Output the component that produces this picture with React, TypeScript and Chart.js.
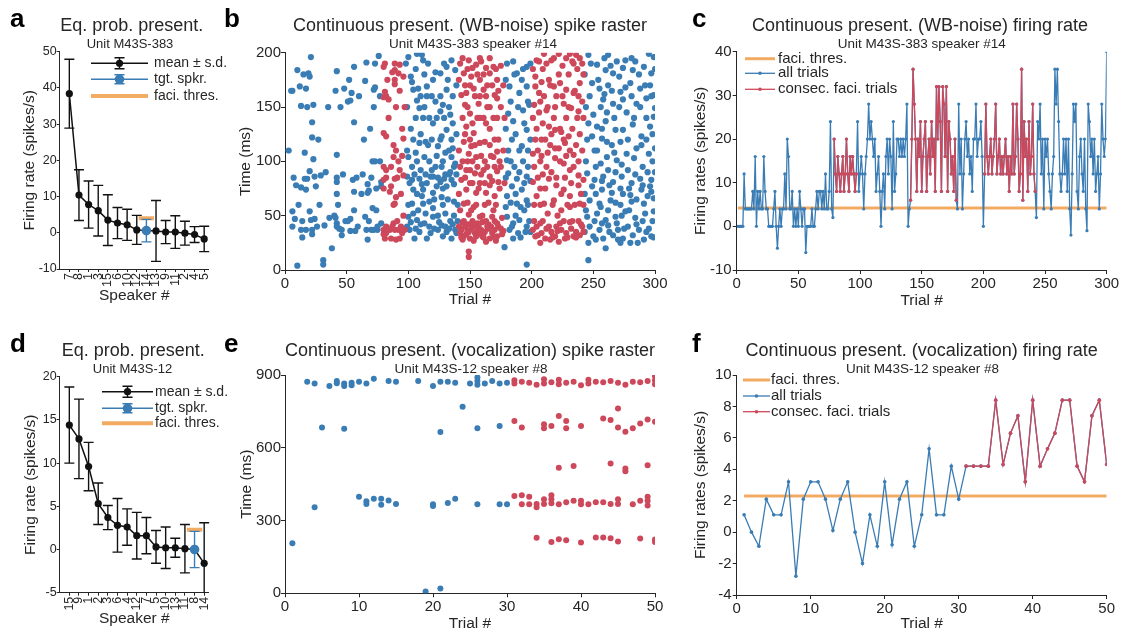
import React, { useEffect, useRef } from 'react';
import { Chart, registerables } from 'chart.js';

Chart.register(...registerables);

const W = 1122;
const H = 637;
const FONT = '"Liberation Sans", Arial, Helvetica, sans-serif';
const INK = '#262626';
const BLUE = '#3a7cb4';
const RED = '#cd485a';
const ORANGE = '#f2ab63';
const BLACK = '#111111';

Chart.defaults.font.family = FONT;
Chart.defaults.color = INK;

// ---------------- Panel a : Eq. prob. present. (Unit M43S-383) ----------------
const speakersA = ['7', '8', '1', '3', '15', '6', '10', '12', '14', '13', '9', '11', '2', '4', '5'];
const meanA = [38.4, 10.4, 7.8, 6.1, 3.5, 2.7, 2.2, 0.8, 0.6, 0.5, 0.2, 0.2, -0.1, -0.5, -1.7];
const sdA = [9.5, 7.0, 6.5, 7.0, 7.0, 4.3, 4.3, 4.0, 3.1, 8.4, 3.2, 4.5, 3.3, 2.2, 3.5];
const targetA = '14';
const thresA = 4.0;

// ---------------- Panel d : Eq. prob. present. (Unit M43S-12) ----------------
const speakersD = ['15', '9', '1', '2', '3', '6', '4', '12', '7', '5', '10', '13', '11', '8', '14'];
const meanD = [14.4, 12.8, 9.6, 5.3, 3.7, 2.8, 2.6, 1.6, 1.6, 0.3, 0.2, 0.2, 0.1, 0.0, -1.6];
const sdD = [4.4, 4.6, 2.8, 2.4, 1.4, 3.1, 2.1, 2.7, 2.1, 1.9, 2.4, 1.1, 2.8, 2.1, 4.7];
const targetD = '8';
const thresD = 2.3;

// ---------------- Panel b : WB-noise spike raster, [trial, ms] pairs ----------------
const rasterBBlue = [
  6, 165, 10, 184, 12, 169, 13, 151, 17, 167, 21, 196, 19, 181, 20, 178, 23, 152, 22, 136, 22, 122, 23, 102,
  20, 91, 16, 108, 9, 78, 13, 76, 17, 74, 16, 84, 18, 84, 24, 86, 25, 77, 29, 87, 6, 54, 8, 47, 6, 40, 14, 45,
  13, 37, 14, 30, 17, 37, 20, 54, 21, 46, 22, 37, 22, 33, 24, 47, 10, 4, 31, 9, 31, 5, 32, 41, 38, 20, 41, 165,
  42, 183, 42, 106, 42, 85, 42, 81, 42, 70, 43, 60, 40, 50, 41, 48, 42, 43, 42, 40, 46, 32, 46, 37, 48, 167,
  51, 155, 53, 156, 54, 163, 56, 187, 56, 136, 51, 45, 53, 47, 56, 55, 56, 72, 55, 83, 53, 36, 57, 36, 63, 88,
  65, 174, 66, 191, 67, 71, 68, 73, 67, 79, 65, 49, 66, 37, 67, 28, 72, 150, 73, 168, 72, 166, 71, 100, 73, 100,
  71, 57, 70, 37, 72, 37, 75, 37, 76, 197, 77, 160, 78, 81, 78, 77, 74, 75, 75, 40,
  3, 110, 5, 165, 7, 85, 11, 60, 15, 180, 18, 150, 26, 40, 27, 120, 28, 60, 33, 90, 35, 150, 36, 48, 44, 38,
  45, 150, 47, 88, 49, 45, 52, 175, 58, 85, 59, 40, 60, 160, 62, 70, 64, 120, 68, 45, 69, 130, 70, 85, 73, 190,
  74, 55, 77, 100, 78, 43,
  100, 196, 107, 199, 112, 193, 111, 198, 103, 173, 104, 166, 108, 167, 115, 169, 120, 175, 126, 181, 131, 187,
  135, 193, 138, 184, 107, 156, 115, 160, 122, 155, 128, 152, 109, 149, 131, 166, 112, 140, 120, 135, 126, 146,
  134, 143, 104, 120, 109, 117, 116, 115, 124, 114, 127, 123, 131, 129, 135, 120, 100, 104, 107, 100, 113, 104,
  122, 95, 128, 100, 135, 104, 138, 98, 99, 86, 103, 83, 109, 84, 115, 80, 120, 86, 126, 81, 131, 77, 135, 83,
  104, 74, 112, 74, 120, 71, 128, 75, 103, 61, 112, 61, 120, 57, 128, 60, 137, 63, 100, 49, 107, 46, 113, 43,
  120, 49, 127, 41, 134, 45, 101, 37, 109, 35, 118, 34, 124, 37, 131, 35, 138, 37, 105, 29, 115, 29, 128, 31,
  135, 29, 99, 40, 102, 44, 106, 38, 110, 42, 117, 40, 121, 38, 125, 44, 130, 40, 133, 38, 136, 42, 139, 34,
  101, 80, 105, 88, 111, 79, 118, 86, 123, 77, 129, 84, 133, 88, 137, 79,
  98, 190, 99, 150, 99, 110, 100, 60, 102, 178, 102, 130, 103, 95, 104, 52, 106, 185, 106, 140, 106, 108,
  107, 70, 108, 55, 110, 160, 110, 125, 110, 92, 111, 68, 113, 180, 113, 150, 114, 118, 114, 88, 114, 52,
  116, 190, 117, 140, 117, 100, 117, 63, 119, 160, 119, 120, 119, 92, 121, 65, 122, 182, 123, 140, 123, 105,
  124, 85, 124, 50, 126, 160, 126, 120, 127, 95, 127, 67, 129, 190, 129, 140, 130, 108, 130, 88, 130, 52,
  132, 175, 133, 150, 133, 110, 132, 65, 134, 90, 136, 160, 136, 135, 136, 112, 137, 95, 137, 50, 139, 170,
  139, 125, 139, 88, 140, 60, 140, 45,
  180, 190, 185, 192, 188, 181, 192, 175, 196, 187, 182, 169, 190, 163, 196, 169, 181, 144, 185, 137, 193, 147,
  196, 129, 184, 120, 192, 114, 180, 101, 186, 95, 193, 100, 181, 89, 188, 84, 196, 86, 184, 77, 192, 74,
  180, 68, 188, 61, 196, 64, 180, 49, 185, 43, 190, 46, 196, 40, 182, 37, 189, 34, 195, 35, 185, 29, 178, 21,
  196, 5, 199, 190, 198, 152, 199, 82, 198, 45,
  179, 175, 179, 130, 179, 85, 179, 58, 181, 110, 183, 155, 183, 100, 183, 62, 184, 40, 186, 180, 187, 125,
  187, 70, 187, 50, 189, 150, 190, 110, 190, 90, 191, 58, 191, 30, 193, 185, 194, 135, 194, 80, 194, 55,
  197, 155, 197, 110, 197, 95, 197, 60, 199, 120, 199, 35,
  246, 198, 262, 198, 269, 192, 276, 193, 284, 192, 295, 199, 299, 196, 253, 189, 260, 184, 266, 181, 274, 186,
  282, 184, 291, 187, 297, 181, 249, 172, 255, 167, 262, 170, 272, 164, 280, 172, 288, 167, 296, 170, 299, 161,
  247, 160, 258, 157, 266, 153, 274, 157, 285, 153, 293, 158, 300, 149, 246, 135, 253, 132, 260, 137, 268, 129,
  249, 123, 257, 121, 265, 115, 274, 129, 282, 134, 289, 123, 296, 132, 253, 110, 261, 104, 269, 101, 277, 107,
  285, 112, 295, 107, 300, 112, 299, 141, 245, 89, 251, 83, 258, 86, 266, 81, 273, 86, 281, 80, 288, 84, 297, 83,
  249, 77, 257, 74, 265, 71, 272, 75, 280, 69, 289, 74, 296, 77, 247, 64, 255, 61, 264, 64, 272, 60, 281, 63,
  291, 61, 299, 66, 245, 49, 253, 52, 260, 46, 268, 49, 276, 54, 284, 48, 292, 52, 299, 54, 247, 40, 255, 37,
  262, 41, 270, 37, 278, 40, 287, 37, 295, 38, 250, 31, 258, 29, 266, 32, 274, 29, 282, 32, 291, 28, 297, 31,
  246, 25, 260, 20, 272, 25, 280, 25, 246, 9,
  243, 180, 244, 150, 245, 120, 244, 100, 243, 70, 244, 55, 243, 35, 248, 190, 250, 143, 251, 110, 252, 95,
  252, 70, 251, 45, 252, 28, 254, 175, 256, 150, 257, 130, 256, 98, 257, 82, 256, 58, 257, 43, 259, 195,
  259, 162, 261, 145, 261, 118, 262, 92, 263, 78, 262, 55, 263, 35, 264, 188, 265, 165, 267, 140, 267, 108,
  268, 90, 268, 62, 269, 43, 270, 28, 271, 178, 271, 150, 272, 118, 273, 97, 274, 70, 273, 50, 275, 38,
  276, 168, 277, 145, 278, 120, 278, 92, 279, 75, 279, 55, 281, 195, 281, 160, 283, 140, 283, 103, 284, 88,
  285, 65, 285, 42, 286, 25, 287, 180, 288, 150, 289, 115, 290, 95, 290, 78, 290, 45, 292, 170, 293, 140,
  293, 120, 294, 90, 294, 68, 293, 35, 297, 160, 298, 125, 298, 100, 297, 72, 298, 45, 299, 30, 300, 185, 300, 90,
];
const rasterBRed = [
  80, 187, 89, 184, 89, 175, 89, 171, 81, 164, 82, 160, 84, 157, 80, 126, 82, 123, 88, 115, 80, 95, 82, 85,
  80, 37, 82, 34, 85, 37, 81, 29, 89, 37, 90, 28, 89, 190, 93, 189, 92, 181, 96, 178, 80, 159, 95, 130, 96, 121,
  88, 104, 92, 100, 93, 92, 89, 84, 86, 77, 96, 87, 82, 92, 80, 83, 80, 75, 85, 72, 90, 67, 89, 61, 88, 43,
  82, 40, 92, 37, 95, 34, 80, 33, 86, 29, 93, 29, 97, 37,
  81, 190, 83, 175, 84, 140, 86, 95, 87, 182, 87, 40, 88, 60, 90, 150, 90, 110, 91, 45, 91, 85, 93, 165,
  94, 70, 94, 40, 95, 105, 96, 50, 97, 150,
  142, 190, 149, 193, 155, 189, 159, 192, 163, 186, 169, 187, 145, 181, 151, 178, 158, 175, 166, 181, 172, 175,
  143, 161, 147, 163, 153, 167, 161, 166, 163, 160, 170, 161, 146, 152, 157, 153, 166, 150, 172, 158, 150, 144,
  158, 140, 163, 135, 147, 132, 153, 126, 145, 118, 151, 114, 158, 117, 166, 115, 172, 109, 149, 107, 155, 104,
  162, 100, 169, 104, 174, 100, 142, 95, 147, 92, 154, 89, 161, 92, 166, 86, 172, 91, 143, 83, 150, 80, 158, 80,
  166, 78, 173, 81, 147, 74, 155, 71, 163, 71, 170, 68, 145, 61, 153, 58, 162, 60, 169, 55, 149, 51, 158, 49,
  168, 49, 141, 40, 143, 37, 146, 40, 149, 35, 151, 38, 154, 34, 157, 40, 159, 37, 162, 35, 165, 38, 168, 34,
  170, 37, 173, 40, 145, 31, 150, 29, 155, 31, 161, 30, 166, 29, 172, 31, 142, 34, 147, 33, 158, 34, 164, 40,
  144, 44, 148, 42, 152, 45, 156, 43, 160, 44, 165, 42, 170, 45, 175, 38, 176, 33, 144, 28, 153, 27, 163, 26,
  171, 27, 149, 17, 149, 12,
  141, 175, 141, 110, 141, 70, 142, 55, 143, 30, 144, 195, 144, 140, 144, 100, 145, 45, 146, 170, 146, 125,
  146, 85, 148, 185, 148, 150, 148, 100, 148, 62, 148, 36, 150, 170, 150, 120, 150, 92, 150, 42, 151, 55,
  152, 186, 152, 135, 152, 100, 152, 80, 153, 40, 154, 160, 154, 115, 155, 60, 156, 180, 156, 140, 156, 95,
  156, 36, 157, 75, 158, 195, 158, 160, 159, 105, 159, 88, 160, 50, 160, 31, 161, 180, 161, 140, 162, 118,
  162, 80, 163, 45, 164, 170, 164, 150, 164, 95, 165, 62, 166, 195, 166, 130, 167, 105, 167, 40, 168, 170,
  168, 82, 169, 140, 170, 120, 170, 95, 170, 30, 171, 185, 171, 60, 172, 140, 172, 43, 173, 165, 173, 120,
  174, 75, 175, 188, 175, 150, 175, 95, 176, 48, 177, 170, 177, 110, 177, 36, 178, 140, 178, 80,
  204, 193, 210, 199, 216, 193, 222, 199, 228, 195, 231, 199, 236, 198, 239, 195, 234, 190, 241, 190, 208, 173,
  214, 175, 218, 169, 223, 172, 228, 166, 234, 163, 238, 160, 206, 163, 203, 169, 202, 152, 207, 155, 212, 147,
  219, 150, 226, 153, 232, 149, 238, 146, 242, 140, 214, 132, 219, 129, 224, 127, 230, 123, 208, 120, 215, 115,
  222, 112, 227, 117, 234, 106, 203, 120, 201, 107, 207, 100, 212, 95, 219, 103, 226, 98, 231, 92, 238, 87,
  242, 83, 201, 81, 207, 75, 214, 84, 220, 78, 226, 74, 231, 68, 238, 78, 210, 61, 218, 64, 224, 55, 231, 58,
  239, 61, 204, 68, 201, 37, 204, 40, 208, 34, 212, 38, 216, 35, 220, 40, 224, 37, 228, 34, 232, 38, 236, 35,
  241, 40, 203, 31, 211, 29, 219, 31, 227, 29, 234, 31, 239, 32, 207, 43, 223, 43, 231, 44, 238, 45, 215, 28,
  222, 26, 207, 25,
  201, 185, 201, 140, 202, 95, 202, 60, 202, 45, 203, 178, 204, 130, 205, 110, 205, 85, 205, 32, 206, 192,
  206, 145, 207, 60, 208, 105, 209, 185, 209, 135, 209, 88, 209, 45, 210, 160, 211, 120, 211, 75, 212, 190,
  213, 150, 213, 108, 213, 52, 214, 40, 215, 170, 216, 125, 216, 90, 217, 60, 217, 30, 218, 195, 218, 140,
  219, 112, 220, 160, 220, 85, 221, 50, 221, 36, 222, 180, 223, 130, 223, 100, 224, 70, 225, 188, 225, 160,
  226, 120, 226, 45, 227, 85, 228, 140, 228, 105, 229, 60, 229, 30, 230, 180, 230, 150, 231, 110, 232, 80,
  233, 192, 233, 130, 233, 45, 234, 95, 235, 165, 235, 60, 236, 115, 236, 30, 237, 185, 237, 140, 238, 100,
  239, 172, 239, 125, 240, 70, 240, 42, 241, 155, 241, 110, 242, 180, 242, 60, 242, 35,
];

// ---------------- Panel c : WB-noise firing rate per trial (spikes/s) ----------------
const ratesC = [
  0, 0, 0, 0, 0, 12, 4, 4, 4, 4,
  4, 4, 8, 4, 16, 0, 8, 4, 8, 4,
  4, 16, 8, 4, 4, 0, 0, 0, 0, 4,
  8, 0, -5, 0, 4, 0, 4, 4, 12, 4,
  20, 16, 4, 4, 8, 0, 4, 0, 4, 0,
  8, 4, 0, 4, 4, -6, 0, 0, 0, 0,
  4, 0, 0, 4, 8, 4, 8, 8, 4, 8,
  4, 12, 4, 4, 8, 24, 4, 2, 20, 12,
  8, 16, 12, 8, 12, 16, 8, 12, 20, 12,
  8, 16, 12, 16, 12, 8, 12, 24, 8, 12,
  16, 12, 4, 12, 16, 20, 28, 20, 24, 20,
  16, 20, 8, 12, 16, 8, 0, 8, 12, 4,
  16, 20, 12, 20, 16, 4, 24, 8, 12, 20,
  20, 16, 20, 16, 20, 16, 20, 28, 0, 4,
  6, 20, 36, 28, 20, 8, 20, 16, 24, 8,
  16, 20, 24, 8, 16, 20, 12, 24, 16, 20,
  8, 32, 20, 32, 24, 8, 32, 28, 16, 32,
  8, 24, 20, 12, 16, 8, 20, 6, 4, 28,
  12, 20, 4, 12, 20, 24, 16, 20, 12, 16,
  8, 20, 20, 28, 16, 20, 20, 24, 16, 0,
  12, 28, 16, 12, 16, 20, 12, 16, 20, 28,
  12, 16, 20, 12, 16, 12, 16, 20, 12, 16,
  8, 16, 12, 28, 12, 16, 28, 20, 8, 12,
  36, 6, 24, 16, 20, 8, 24, 12, 16, 28,
  12, 8, 2, 24, 20, 28, 12, 20, 4, 20,
  16, 20, 12, 8, 4, 12, 16, 36, 28, 36,
  24, 12, 8, 12, 20, 12, 20, 8, 20, 4,
  -2, 12, 28, 24, 28, 8, 4, 16, 20, 12,
  8, 20, 4, -1, 28, 24, 16, 20, 12, 20,
  8, 12, 16, 4, 12, 28, 20, 16, 20, 40,
];
const faciRunsC = [[79, 97], [141, 178], [201, 242]];
const thresC = 4.2;

// ---------------- Panel e : vocalization spike raster, [trial, ms] pairs ----------------
const rasterEBlue = [
  1, 206, 3, 872, 4, 865, 4, 355, 5, 684, 6, 855, 7, 875, 7, 866, 8, 865, 8, 855, 8, 678, 9, 868, 9, 858,
  10, 872, 10, 398, 11, 865, 11, 380, 11, 368, 12, 885, 12, 390, 13, 390, 13, 365, 14, 875, 14, 383, 15, 872,
  15, 368, 18, 875, 19, 7, 20, 855, 20, 367, 20, 360, 21, 872, 21, 665, 21, 20, 22, 872, 22, 372, 23, 868,
  23, 390, 24, 769, 25, 865, 26, 890, 26, 875, 26, 860, 26, 680, 26, 367, 27, 865, 28, 875, 29, 865, 29, 690,
  29, 367, 30, 868, 30, 367,
];
const rasterERed = [
  31, 878, 31, 865, 32, 872, 33, 868, 34, 860, 35, 882, 35, 865, 36, 870, 37, 880, 37, 862, 38, 868, 39, 872,
  40, 858, 41, 880, 41, 865, 42, 872, 43, 870, 44, 875, 45, 868, 46, 860, 47, 872, 48, 870, 49, 875, 50, 895,
  50, 878, 50, 862,
  31, 710, 32, 684, 35, 697, 35, 680, 36, 690, 37, 731, 38, 710, 38, 680, 40, 690, 43, 721, 44, 714, 45, 762,
  45, 684, 46, 666, 47, 680, 48, 700, 49, 717, 50, 707,
  37, 518, 39, 525, 44, 535, 46, 515, 46, 503, 49, 528,
  31, 401, 32, 404, 33, 398, 32, 367, 33, 367, 34, 368, 34, 355, 35, 388, 35, 368, 36, 404, 36, 388, 36, 371,
  37, 367, 38, 375, 39, 382, 40, 382, 40, 367, 41, 367, 42, 375, 43, 375, 44, 368, 45, 388, 45, 368, 47, 367,
  48, 382, 49, 398, 49, 382, 49, 362,
  34, 229, 36, 212, 37, 223, 38, 219, 40, 209, 42, 230, 43, 230, 44, 227, 45, 214, 48, 226, 50, 222, 50, 212,
];

// ---------------- Panel f : vocalization firing rate per trial (spikes/s) ----------------
const ratesF = [
  1.1, 0.0, -0.9, 2.1, 1.1, 1.1, 3.2, -2.8, 2.1, 3.2,
  3.2, 2.1, 0.1, 2.1, 3.2, 0.0, -2.0, 1.1, -0.9, 3.2,
  -0.8, 2.1, 3.2, -0.9, 1.1, 5.3, 1.1, 1.1, 4.2, 2.1,
  4.2, 4.2, 4.2, 4.2, 8.4, 4.3, 6.3, 7.4, 3.2, 8.4,
  4.2, 5.3, 6.3, 8.4, 8.4, 4.2, 3.2, 7.4, 8.4, 4.3,
];
const faciRunsF = [[31, 50]];
const thresF = 2.3;

// ---------------- helpers ----------------
const pairs = (flat: number[]) => {
  const out: { x: number; y: number }[] = [];
  for (let i = 0; i + 1 < flat.length; i += 2) out.push({ x: flat[i], y: flat[i + 1] });
  return out;
};
const inRuns = (t: number, runs: number[][]) => runs.some(([a, b]) => t >= a && t <= b);

const errorBarPlugin = {
  id: 'errbars',
  beforeDatasetDraw(chart: any, args: any) {
    const ds: any = chart.data.datasets[args.index];
    if (!ds.errSd) return;
    const { ctx, chartArea, scales } = chart;
    ctx.save();
    ctx.beginPath();
    ctx.rect(chartArea.left - 10, chartArea.top - 2, chartArea.width + 20, chartArea.height + 2);
    ctx.clip();
    ctx.strokeStyle = ds.borderColor;
    ctx.lineWidth = 1.4;
    const cap = 5;
    ds.data.forEach((p: any, i: number) => {
      const sd = ds.errSd[i];
      if (sd == null) return;
      const x = scales.x.getPixelForValue(p.x);
      const y1 = scales.y.getPixelForValue(p.y - sd);
      const y2 = scales.y.getPixelForValue(p.y + sd);
      ctx.beginPath();
      ctx.moveTo(x, y1);
      ctx.lineTo(x, y2);
      ctx.moveTo(x - cap, y1);
      ctx.lineTo(x + cap, y1);
      ctx.moveTo(x - cap, y2);
      ctx.lineTo(x + cap, y2);
      ctx.stroke();
    });
    ctx.restore();
  },
};

type Txt = { text: string; x: number; y: number; size: number; bold?: boolean; align?: CanvasTextAlign };
type Row = { label: string; color: string; width: number; y: number; dot?: number; bar?: number; cap?: number };
type Leg = { x0: number; x1: number; tx: number; size: number; rows: Row[] } | null;

function makeDecor(texts: Txt[], legend: Leg) {
  return {
    id: 'decor',
    afterDraw(chart: any) {
      const ctx = chart.ctx;
      ctx.save();
      for (const t of texts) {
        ctx.font = `${t.bold ? 'bold ' : ''}${t.size}px ${FONT}`;
        ctx.fillStyle = t.bold ? '#000' : INK;
        ctx.textAlign = t.align || 'center';
        ctx.textBaseline = 'alphabetic';
        ctx.fillText(t.text, t.x, t.y);
      }
      if (legend) {
        const xm = (legend.x0 + legend.x1) / 2;
        for (const r of legend.rows) {
          ctx.strokeStyle = r.color;
          ctx.fillStyle = r.color;
          ctx.lineWidth = r.width;
          ctx.lineCap = 'butt';
          ctx.beginPath();
          ctx.moveTo(legend.x0, r.y);
          ctx.lineTo(legend.x1, r.y);
          ctx.stroke();
          if (r.bar) {
            const c = r.cap || 5;
            ctx.lineWidth = 1.4;
            ctx.beginPath();
            ctx.moveTo(xm, r.y - r.bar);
            ctx.lineTo(xm, r.y + r.bar);
            ctx.moveTo(xm - c, r.y - r.bar);
            ctx.lineTo(xm + c, r.y - r.bar);
            ctx.moveTo(xm - c, r.y + r.bar);
            ctx.lineTo(xm + c, r.y + r.bar);
            ctx.stroke();
          }
          if (r.dot) {
            ctx.beginPath();
            ctx.arc(xm, r.y, r.dot, 0, Math.PI * 2);
            ctx.fill();
          }
          ctx.font = `${legend.size}px ${FONT}`;
          ctx.fillStyle = INK;
          ctx.textAlign = 'left';
          ctx.textBaseline = 'middle';
          ctx.fillText(r.label, legend.tx, r.y);
        }
      }
      ctx.restore();
    },
  };
}

type Layout = {
  area: { L: number; R: number; T: number; B: number };
  x: { min: number; max: number; step?: number; title: string; center: number; labels?: string[] };
  y: { min: number; max: number; step: number; title: string; center: number };
  tickSize: number;
  titleSize: number;
  tickLen: number;
  xPad: number;
  yPad: number;
};

function makeOptions(p: Layout) {
  const lh = p.titleSize * 1.2;
  const tickFont = { family: FONT, size: p.tickSize };
  const titleFont = { family: FONT, size: p.titleSize, lineHeight: 1.2 };
  const grid = { display: true, drawOnChartArea: false, drawTicks: true, tickLength: p.tickLen, color: INK, lineWidth: 1 };
  const border = { display: true, color: INK, width: 1 };
  const x: any = {
    type: 'linear',
    min: p.x.min,
    max: p.x.max,
    grid,
    border,
    ticks: { font: tickFont, color: INK, padding: p.xPad, autoSkip: false, maxRotation: 0, minRotation: 0 },
    title: { display: true, text: p.x.title, font: titleFont, color: INK, padding: { top: 0, bottom: H - p.x.center - lh / 2 } },
    afterFit: (s: any) => {
      s.height = H - p.area.B;
    },
  };
  if (p.x.step) x.ticks.stepSize = p.x.step;
  if (p.x.labels) {
    const labels = p.x.labels;
    x.afterBuildTicks = (s: any) => {
      s.ticks = labels.map((_, i) => ({ value: i + 1 }));
    };
    x.ticks.callback = (v: number) => labels[Math.round(v) - 1] ?? '';
    x.ticks.minRotation = 90;
    x.ticks.maxRotation = 90;
  }
  const y: any = {
    type: 'linear',
    min: p.y.min,
    max: p.y.max,
    grid,
    border,
    ticks: { font: tickFont, color: INK, padding: p.yPad, stepSize: p.y.step },
    title: { display: true, text: p.y.title, font: titleFont, color: INK, padding: { top: p.y.center - lh / 2, bottom: 0 } },
    afterFit: (s: any) => {
      s.width = p.area.L;
    },
  };
  return {
    responsive: false,
    animation: false,
    events: [],
    layout: { padding: { left: 0, top: p.area.T, right: W - p.area.R, bottom: 0 } },
    plugins: { legend: { display: false }, tooltip: { enabled: false }, title: { display: false } },
    scales: { x, y },
  };
}

function eqProbConfig(
  speakers: string[], mean: number[], sd: number[], target: string, thres: number,
  layout: Layout, texts: Txt[], leg: Leg,
) {
  const ti = speakers.indexOf(target);
  const tx = ti + 1;
  return {
    type: 'scatter',
    data: {
      datasets: [
        {
          data: [{ x: tx, y: mean[ti] }],
          errSd: [sd[ti]],
          borderColor: BLUE,
          backgroundColor: BLUE,
          pointRadius: 4.8,
          pointBorderWidth: 0,
          showLine: false,
        },
        {
          data: speakers.map((_, i) => ({ x: i + 1, y: mean[i] })),
          errSd: speakers.map((_, i) => (i === ti ? null : sd[i])),
          borderColor: BLACK,
          backgroundColor: BLACK,
          borderWidth: 1.5,
          pointRadius: 3.6,
          pointBorderWidth: 0,
          showLine: true,
          tension: 0,
        },
        {
          data: [{ x: tx - 0.8, y: thres }, { x: tx + 0.8, y: thres }],
          borderColor: ORANGE,
          borderWidth: 4,
          borderCapStyle: 'butt',
          pointRadius: 0,
          showLine: true,
        },
      ],
    },
    options: makeOptions(layout),
    plugins: [errorBarPlugin, makeDecor(texts, leg)],
  };
}

function rasterConfig(blue: number[], red: number[], layout: Layout, texts: Txt[], r: number) {
  return {
    type: 'scatter',
    data: {
      datasets: [
        { data: pairs(red), backgroundColor: RED, pointRadius: r, pointBorderWidth: 0 },
        { data: pairs(blue), backgroundColor: BLUE, pointRadius: r, pointBorderWidth: 0 },
      ],
    },
    options: makeOptions(layout),
    plugins: [makeDecor(texts, null)],
  };
}

function rateConfig(rates: number[], runs: number[][], thres: number, layout: Layout, texts: Txt[], leg: Leg, r: number) {
  const all = rates.map((v, i) => ({ x: i + 1, y: v }));
  const faci = rates.map((v, i) => ({ x: i + 1, y: inRuns(i + 1, runs) ? v : null }));
  return {
    type: 'scatter',
    data: {
      datasets: [
        {
          data: faci, borderColor: RED, backgroundColor: RED, borderWidth: 1.3, pointRadius: r,
          pointBorderWidth: 0, showLine: true, spanGaps: false, tension: 0,
        },
        {
          data: all, borderColor: BLUE, backgroundColor: BLUE, borderWidth: 1.3, pointRadius: r,
          pointBorderWidth: 0, showLine: true, tension: 0,
        },
        {
          data: [{ x: 1, y: thres }, { x: rates.length, y: thres }], borderColor: ORANGE, borderWidth: 3,
          pointRadius: 0, showLine: true,
        },
      ],
    },
    options: makeOptions(layout),
    plugins: [makeDecor(texts, leg)],
  };
}

function buildConfigs(): any[] {
  const row1 = { letter: 27, title: 31, sub: 48 };
  const row2 = { letter: 352, title: 355.5, sub: 372.5 };

  const cfgA = eqProbConfig(
    speakersA, meanA, sdA, targetA, thresA,
    {
      area: { L: 59.7, R: 209, T: 51.7, B: 269 },
      x: { min: 0, max: 15.5, title: 'Speaker #', center: 296, labels: speakersA },
      y: { min: -10, max: 50, step: 10, title: 'Firing rate (spikes/s)', center: 29.5 },
      tickSize: 12.5, titleSize: 15.5, tickLen: 3, xPad: 1, yPad: 0,
    },
    [
      { text: 'a', x: 10, y: row1.letter, size: 26, bold: true, align: 'left' },
      { text: 'Eq. prob. present.', x: 131.7, y: row1.title, size: 18 },
      { text: 'Unit M43S-383', x: 130, y: row1.sub, size: 13 },
    ],
    {
      x0: 91, x1: 148, tx: 154, size: 14,
      rows: [
        { label: 'mean ± s.d.', color: BLACK, width: 1.5, y: 63.3, dot: 3.6, bar: 5.5, cap: 5 },
        { label: 'tgt. spkr.', color: BLUE, width: 1.5, y: 79.3, dot: 4.8, bar: 4.5, cap: 5 },
        { label: 'faci. thres.', color: ORANGE, width: 4, y: 96 },
      ],
    },
  );

  const cfgD = eqProbConfig(
    speakersD, meanD, sdD, targetD, thresD,
    {
      area: { L: 59.7, R: 209, T: 376.7, B: 592.7 },
      x: { min: 0, max: 15.5, title: 'Speaker #', center: 619, labels: speakersD },
      y: { min: -5, max: 20, step: 5, title: 'Firing rate (spikes/s)', center: 31 },
      tickSize: 12.5, titleSize: 15.5, tickLen: 3, xPad: 1, yPad: 0,
    },
    [
      { text: 'd', x: 10, y: row2.letter, size: 26, bold: true, align: 'left' },
      { text: 'Eq. prob. present.', x: 133.3, y: row2.title, size: 18 },
      { text: 'Unit M43S-12', x: 132.5, y: row2.sub, size: 13 },
    ],
    {
      x0: 102, x1: 153, tx: 155, size: 14,
      rows: [
        { label: 'mean ± s.d.', color: BLACK, width: 1.5, y: 391.7, dot: 3.6, bar: 5.5, cap: 5 },
        { label: 'tgt. spkr.', color: BLUE, width: 1.5, y: 408.3, dot: 4.8, bar: 4.5, cap: 5 },
        { label: 'faci. thres.', color: ORANGE, width: 4, y: 423.3 },
      ],
    },
  );

  const cfgB = rasterConfig(
    rasterBBlue, rasterBRed,
    {
      area: { L: 285, R: 655, T: 52.7, B: 270 },
      x: { min: 0, max: 300, step: 50, title: 'Trial #', center: 300 },
      y: { min: 0, max: 200, step: 50, title: 'Time (ms)', center: 246 },
      tickSize: 15, titleSize: 15.5, tickLen: 4, xPad: 1, yPad: 0,
    },
    [
      { text: 'b', x: 224, y: row1.letter, size: 26, bold: true, align: 'left' },
      { text: 'Continuous present. (WB-noise) spike raster', x: 470, y: row1.title, size: 18 },
      { text: 'Unit M43S-383 speaker #14', x: 473, y: row1.sub, size: 13.5 },
    ],
    3.1,
  );

  const cfgE = rasterConfig(
    rasterEBlue, rasterERed,
    {
      area: { L: 285, R: 655, T: 375, B: 593.3 },
      x: { min: 0, max: 50, step: 10, title: 'Trial #', center: 624 },
      y: { min: 0, max: 900, step: 300, title: 'Time (ms)', center: 246.5 },
      tickSize: 15, titleSize: 15.5, tickLen: 4, xPad: 1, yPad: 0,
    },
    [
      { text: 'e', x: 224, y: row2.letter, size: 26, bold: true, align: 'left' },
      { text: 'Continuous present. (vocalization) spike raster', x: 470, y: row2.title, size: 18 },
      { text: 'Unit M43S-12 speaker #8', x: 471, y: row2.sub, size: 13.5 },
    ],
    3,
  );

  const cfgC = rateConfig(
    ratesC, faciRunsC, thresC,
    {
      area: { L: 736.7, R: 1106.7, T: 51.7, B: 270 },
      x: { min: 0, max: 300, step: 50, title: 'Trial #', center: 301 },
      y: { min: -10, max: 40, step: 10, title: 'Firing rates (spikes/s)', center: 701 },
      tickSize: 15, titleSize: 15.5, tickLen: 4, xPad: 1, yPad: 1,
    },
    [
      { text: 'c', x: 692, y: row1.letter, size: 26, bold: true, align: 'left' },
      { text: 'Continuous present. (WB-noise) firing rate', x: 920, y: row1.title, size: 18 },
      { text: 'Unit M43S-383 speaker #14', x: 921.7, y: row1.sub, size: 13.5 },
    ],
    {
      x0: 745, x1: 775, tx: 778, size: 15,
      rows: [
        { label: 'faci. thres.', color: ORANGE, width: 3, y: 58.7 },
        { label: 'all trials', color: BLUE, width: 1.3, y: 73.3, dot: 1.8 },
        { label: 'consec. faci. trials', color: RED, width: 1.3, y: 89.3, dot: 1.8 },
      ],
    },
    1.6,
  );

  const cfgF = rateConfig(
    ratesF, faciRunsF, thresF,
    {
      area: { L: 736.7, R: 1106.7, T: 375, B: 595 },
      x: { min: 0, max: 50, step: 10, title: 'Trial #', center: 624 },
      y: { min: -4, max: 10, step: 2, title: 'Firing rates (spikes/s)', center: 701 },
      tickSize: 15, titleSize: 15.5, tickLen: 4, xPad: 1, yPad: 1,
    },
    [
      { text: 'f', x: 692, y: row2.letter, size: 26, bold: true, align: 'left' },
      { text: 'Continuous present. (vocalization) firing rate', x: 921.7, y: row2.title, size: 18 },
      { text: 'Unit M43S-12 speaker #8', x: 922.5, y: row2.sub, size: 13.5 },
    ],
    {
      x0: 743, x1: 770, tx: 771, size: 15,
      rows: [
        { label: 'faci. thres.', color: ORANGE, width: 3, y: 380 },
        { label: 'all trials', color: BLUE, width: 1.3, y: 396, dot: 1.8 },
        { label: 'consec. faci. trials', color: RED, width: 1.3, y: 411.7, dot: 1.8 },
      ],
    },
    1.8,
  );

  return [cfgA, cfgB, cfgC, cfgD, cfgE, cfgF];
}

export default function App() {
  const refs = useRef<(HTMLCanvasElement | null)[]>([]);
  useEffect(() => {
    const charts = buildConfigs().map((cfg, i) => new Chart(refs.current[i] as HTMLCanvasElement, cfg));
    return () => charts.forEach((c) => c.destroy());
  }, []);
  return (
    <div style={{ position: 'absolute', left: 0, top: 0, width: W, height: H, background: '#fff', overflow: 'hidden' }}>
      {[0, 1, 2, 3, 4, 5].map((i) => (
        <canvas
          key={i}
          ref={(el) => {
            refs.current[i] = el;
          }}
          width={W}
          height={H}
          style={{ position: 'absolute', left: 0, top: 0, width: W, height: H }}
        />
      ))}
    </div>
  );
}
